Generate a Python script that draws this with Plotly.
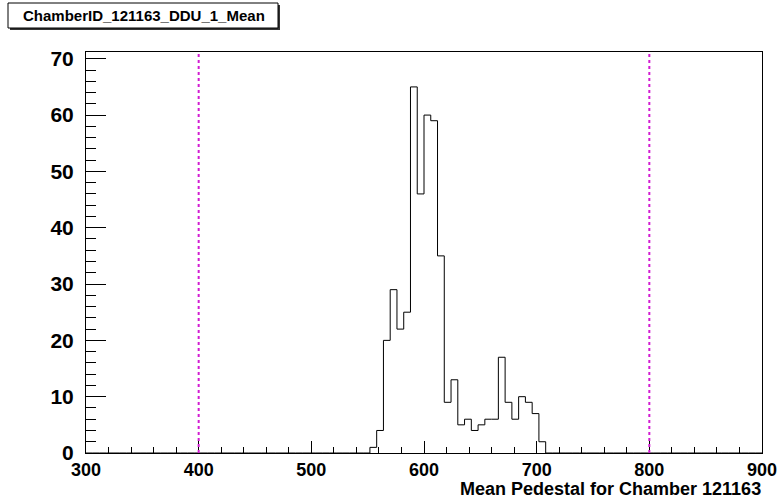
import plotly.graph_objects as go

# Histogram: 100 bins of width 6 over [300, 900]; non-empty bins start at 552
x_min = 300
x_max = 900
bin_width = 6
first_filled_edge = 552
filled_counts = [1, 4, 20, 29, 22, 25, 65, 46, 60, 59, 35, 9, 13, 5, 6, 4, 5,
                 6, 6, 17, 9, 6, 10, 9, 7, 2]

# Reference lines
limit_lines = [400, 800]

x_tick_values = [300, 400, 500, 600, 700, 800, 900]
y_tick_values = [0, 10, 20, 30, 40, 50, 60, 70]

title_text = "ChamberID_121163_DDU_1_Mean"
x_title = "Mean Pedestal for Chamber 121163"

W, H = 782, 499
L, R, T, B = 86, 20, 52, 46

# full bin content array
n_bins = (x_max - x_min) // bin_width
counts = [0] * n_bins
start = (first_filled_edge - x_min) // bin_width
for i, c in enumerate(filled_counts):
    counts[start + i] = c
edges = [x_min + i * bin_width for i in range(n_bins + 1)]

step_x = edges
step_y = counts + [counts[-1]]

fig = go.Figure()
fig.add_trace(go.Scatter(
    x=step_x, y=step_y, mode="lines",
    line=dict(shape="hv", color="black", width=1),
    hoverinfo="skip", showlegend=False, cliponaxis=False,
))

y_top = 71.2

for xv in limit_lines:
    fig.add_shape(type="line", xref="x", yref="y", x0=xv, x1=xv, y0=0, y1=y_top,
                  line=dict(color="#d21cd2", width=2, dash="dot"))

font_family = "Liberation Sans, Arial, Helvetica, sans-serif"

fig.update_xaxes(
    range=[x_min, x_max], showgrid=False, zeroline=False, automargin=False,
    showline=True, mirror=True, linecolor="black", linewidth=1,
    tickmode="array", tickvals=x_tick_values,
    ticks="inside", ticklen=12, tickcolor="black", tickwidth=1,
    minor=dict(ticks="inside", dtick=20, ticklen=6, tickcolor="black", tickwidth=1),
    tickfont=dict(family=font_family, size=18, color="black", weight="bold"),
    ticklabelstandoff=0,
    title=None,
)
fig.update_yaxes(
    range=[0, y_top], showgrid=False, zeroline=False, automargin=False,
    showline=True, mirror=True, linecolor="black", linewidth=1,
    tickmode="array", tickvals=y_tick_values,
    ticks="inside", ticklen=20, tickcolor="black", tickwidth=1,
    minor=dict(ticks="inside", dtick=2, ticklen=10, tickcolor="black", tickwidth=1),
    tickfont=dict(family=font_family, size=21, color="black", weight="bold"),
    ticklabelstandoff=7,
)


def px_x(p):
    return (p - L) / (W - L - R)


def px_y(p):
    return 1 - (p - T) / (H - T - B)


# title box with drop shadow
bx0, bx1, by0, by1 = 8, 278, 3, 28
fig.add_shape(type="rect", xref="paper", yref="paper",
              x0=px_x(bx0 + 2), x1=px_x(bx1 + 2), y0=px_y(by1 + 2), y1=px_y(by0 + 2),
              fillcolor="#333333", line=dict(width=0), layer="above")
fig.add_shape(type="rect", xref="paper", yref="paper",
              x0=px_x(bx0), x1=px_x(bx1), y0=px_y(by1), y1=px_y(by0),
              fillcolor="white", line=dict(color="black", width=1), layer="above")
fig.add_annotation(xref="paper", yref="paper",
                   x=px_x((bx0 + bx1) / 2 + 1), y=px_y((by0 + by1) / 2),
                   text="<b>" + title_text + "</b>", showarrow=False,
                   xanchor="center", yanchor="middle",
                   font=dict(family=font_family, size=15, color="black"))

fig.add_annotation(xref="paper", yref="paper",
                   x=px_x(763), y=px_y(488.5),
                   text="<b>" + x_title + "</b>", showarrow=False,
                   xanchor="right", yanchor="middle",
                   font=dict(family=font_family, size=18, color="black"))

fig.update_layout(
    width=W, height=H,
    margin=dict(l=L, r=R, t=T, b=B, pad=0),
    paper_bgcolor="white", plot_bgcolor="white",
    showlegend=False,
)

fig.write_html("out.html")
